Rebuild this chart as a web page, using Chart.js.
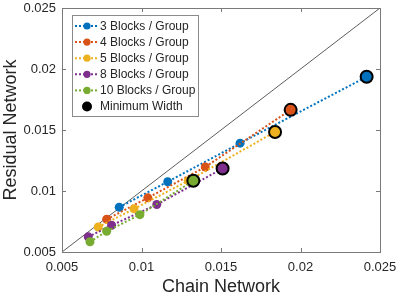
<!DOCTYPE html>
<html>
<head>
<meta charset="utf-8">
<script src="https://cdn.jsdelivr.net/npm/chart.js@4/dist/chart.umd.min.js"></script>
<style>
  html, body { margin: 0; padding: 0; background: #fff; }
  #wrap { width: 399px; height: 298px; position: relative; }
</style>
</head>
<body>
<div id="wrap"><canvas id="chart" width="399" height="298"></canvas></div>
<script>
// values
const seriesNames = ['3 Blocks / Group', '4 Blocks / Group', '5 Blocks / Group', '8 Blocks / Group', '10 Blocks / Group'];
const seriesColors = ['#0072BD', '#D95319', '#EDB120', '#7E2F8E', '#77AC30'];

const chain3 = [0.0086, 0.01165, 0.0162, 0.02416];
const resid3 = [0.00867, 0.01076, 0.01392, 0.01936];
const chain4 = [0.00781, 0.0104, 0.01401, 0.01938];
const resid4 = [0.00768, 0.00944, 0.01197, 0.01665];
const chain5 = [0.00728, 0.00953, 0.01294, 0.0184];
const resid5 = [0.00705, 0.00854, 0.01084, 0.01484];
const chain8 = [0.00665, 0.00812, 0.01096, 0.0151];
const resid8 = [0.00624, 0.00719, 0.00889, 0.01184];
const chain10 = [0.00676, 0.00781, 0.0099, 0.01326];
const resid10 = [0.00584, 0.0067, 0.00806, 0.01084];

const chainSeries = [chain3, chain4, chain5, chain8, chain10];
const residSeries = [resid3, resid4, resid5, resid8, resid10];

const tickValues = [0.005, 0.01, 0.015, 0.02, 0.025];
const tickLabels = ['0.005', '0.01', '0.015', '0.02', '0.025'];
const axisMin = 0.005, axisMax = 0.025;

const textColor = '#262626';
const pts = (xs, ys) => xs.map((x, i) => ({ x: x, y: ys[i] }));

const datasets = [];
// y = x reference line
datasets.push({
  label: 'diag',
  data: [{ x: axisMin, y: axisMin }, { x: axisMax, y: axisMax }],
  showLine: true, borderColor: '#333', borderWidth: 0.8, pointRadius: 0, order: 20
});
seriesNames.forEach((name, i) => {
  datasets.push({
    label: name,
    data: pts(chainSeries[i], residSeries[i]),
    showLine: true,
    borderColor: seriesColors[i],
    borderWidth: 2,
    borderDash: [2, 2],
    backgroundColor: seriesColors[i],
    pointBackgroundColor: seriesColors[i],
    pointBorderWidth: 0,
    pointRadius: 4.5,
    order: 10 - i
  });
});
// minimum width markers = last point of each series
datasets.push({
  label: 'Minimum Width',
  data: chainSeries.map((xs, i) => ({ x: xs[xs.length - 1], y: residSeries[i][xs.length - 1] })),
  showLine: false,
  pointRadius: 6,
  pointBorderWidth: 2,
  pointBorderColor: '#000',
  pointBackgroundColor: seriesColors,
  order: 0
});

// box + inward ticks like MATLAB axes
const framePlugin = {
  id: 'frame',
  afterDatasetsDraw(chart) {
    const { ctx, chartArea: a, scales } = chart;
    ctx.save();
    ctx.strokeStyle = '#7a7a7a';
    ctx.lineWidth = 1;
    ctx.strokeRect(a.left + 0.5, a.top + 0.5, a.right - a.left, a.bottom - a.top);
    const len = 4;
    ctx.beginPath();
    tickValues.forEach(v => {
      const px = Math.round(scales.x.getPixelForValue(v)) + 0.5;
      ctx.moveTo(px, a.bottom); ctx.lineTo(px, a.bottom - len);
      ctx.moveTo(px, a.top); ctx.lineTo(px, a.top + len);
      const py = Math.round(scales.y.getPixelForValue(v)) + 0.5;
      ctx.moveTo(a.left, py); ctx.lineTo(a.left + len, py);
      ctx.moveTo(a.right, py); ctx.lineTo(a.right - len, py);
    });
    ctx.stroke();
    ctx.restore();
  }
};

// legend box inside the top-left corner
const legendPlugin = {
  id: 'boxLegend',
  afterDraw(chart) {
    const { ctx } = chart;
    const x0 = 72, y0 = 15, w = 126, h = 101, rowH = 16.1, firstRow = 26;
    ctx.save();
    ctx.fillStyle = '#fff';
    ctx.fillRect(x0, y0, w, h);
    ctx.strokeStyle = '#8a8a8a';
    ctx.lineWidth = 1;
    ctx.strokeRect(x0 + 0.5, y0 + 0.5, w, h);
    ctx.font = '12px "Liberation Sans", Arial, sans-serif';
    ctx.textBaseline = 'middle';
    const labels = seriesNames.concat(['Minimum Width']);
    labels.forEach((lab, i) => {
      const y = firstRow + i * rowH;
      if (i < seriesNames.length) {
        ctx.strokeStyle = seriesColors[i];
        ctx.lineWidth = 2;
        ctx.setLineDash([2, 2]);
        ctx.beginPath();
        ctx.moveTo(75, y); ctx.lineTo(99, y);
        ctx.stroke();
        ctx.setLineDash([]);
        ctx.fillStyle = seriesColors[i];
        ctx.beginPath(); ctx.arc(87, y, 3.6, 0, Math.PI * 2); ctx.fill();
      } else {
        ctx.fillStyle = '#000';
        ctx.beginPath(); ctx.arc(87, y, 5, 0, Math.PI * 2); ctx.fill();
      }
      ctx.fillStyle = textColor;
      ctx.fillText(lab, 100, y + 0.5);
    });
    ctx.restore();
  }
};

const tickFont = { family: '"Liberation Sans", Arial, sans-serif', size: 13 };
const titleFont = { family: '"Liberation Sans", Arial, sans-serif', size: 18 };

new Chart(document.getElementById('chart'), {
  type: 'scatter',
  data: { datasets: datasets },
  options: {
    responsive: false,
    animation: false,
    layout: { padding: { top: 5, right: 19, left: 0, bottom: 0 } },
    plugins: { legend: { display: false }, tooltip: { enabled: false } },
    scales: {
      x: {
        type: 'linear', min: axisMin, max: axisMax,
        afterBuildTicks: s => { s.ticks = tickValues.map(v => ({ value: v })); },
        afterFit: s => { s.height = 46; s.paddingLeft = 0; s.paddingRight = 0; },
        grid: { display: false, drawTicks: false },
        border: { display: false },
        ticks: {
          color: textColor, font: tickFont, padding: 8, maxRotation: 0,
          callback: (v) => tickLabels[tickValues.indexOf(v)] ?? ''
        },
        title: { display: true, text: 'Chain Network', color: textColor, font: titleFont, padding: { top: 3, bottom: 0 } }
      },
      y: {
        type: 'linear', min: axisMin, max: axisMax,
        afterBuildTicks: s => { s.ticks = tickValues.map(v => ({ value: v })); },
        afterFit: s => { s.width = 62; s.paddingTop = 0; s.paddingBottom = 0; },
        grid: { display: false, drawTicks: false },
        border: { display: false },
        ticks: {
          color: textColor, font: tickFont, padding: 6,
          callback: (v) => tickLabels[tickValues.indexOf(v)] ?? ''
        },
        title: { display: true, text: 'Residual Network', color: textColor, font: titleFont, padding: { top: 0, bottom: 0 } }
      }
    }
  },
  plugins: [framePlugin, legendPlugin]
});
</script>
</body>
</html>
